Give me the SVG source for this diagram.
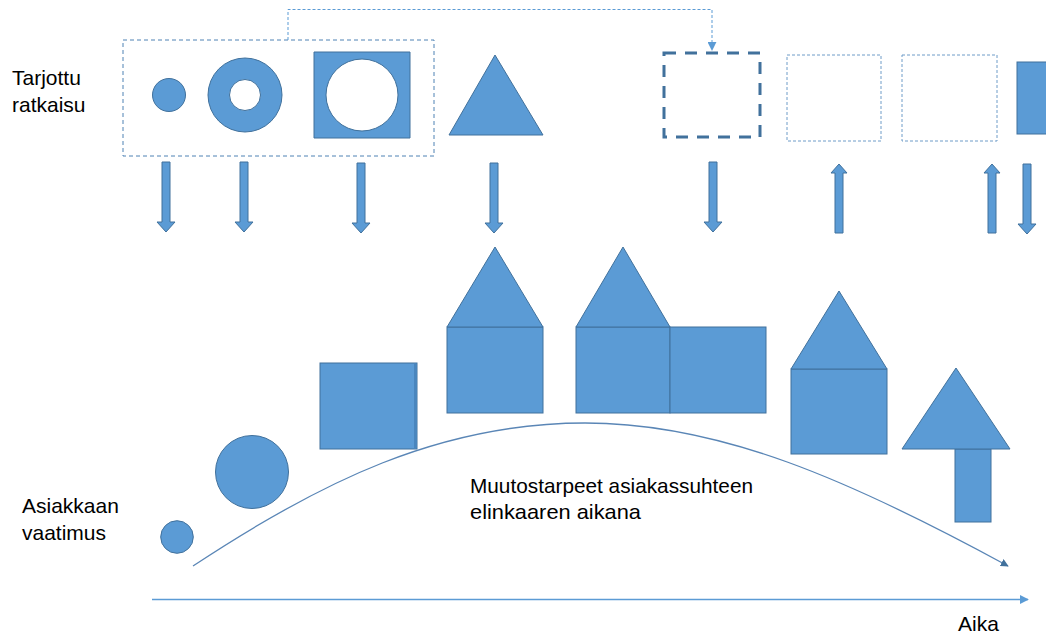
<svg xmlns="http://www.w3.org/2000/svg" width="1046" height="635" viewBox="0 0 1046 635">
  <defs>
    <style>
      .shape { fill: #5B9BD5; stroke: #41719C; stroke-width: 1; }
      .label { font-family: "Liberation Sans", Arial, sans-serif; font-size: 21px; fill: #000; }
      .dash-box { fill: none; stroke: #4F82B4; stroke-width: 1; stroke-dasharray: 4 3; }
      .dot-box { fill: none; stroke: #6F9CC8; stroke-width: 1; stroke-dasharray: 3 2; }
      .heavy-box { fill: none; stroke: #41719C; stroke-width: 3; stroke-dasharray: 12 9; }
    </style>
    <marker id="tip" viewBox="0 0 10 10" refX="9" refY="5" markerWidth="8" markerHeight="8" markerUnits="userSpaceOnUse" orient="auto">
      <path d="M0,0 L10,5 L0,10 z" fill="#41719C"/>
    </marker>
    <marker id="tipLight" viewBox="0 0 10 10" refX="9" refY="5" markerWidth="9" markerHeight="9" markerUnits="userSpaceOnUse" orient="auto">
      <path d="M0,0 L10,5 L0,10 z" fill="#5B9BD5"/>
    </marker>
    <!-- block arrows, drawn at origin and placed by x/y -->
    <path id="downArrow" d="M-4,0 H4 V60 H9 L0,70 L-9,60 H-4 Z" class="shape"/>
    <path id="upArrow" d="M0,0 L8,9 H4 V69 H-4 V9 H-8 Z" class="shape"/>
  </defs>

  <!-- side labels -->
  <g id="label-offer">
    <text class="label" x="12" y="85">Tarjottu</text>
    <text class="label" x="12" y="112">ratkaisu</text>
  </g>
  <g id="label-need">
    <text class="label" x="22" y="513">Asiakkaan</text>
    <text class="label" x="22" y="540">vaatimus</text>
  </g>

  <!-- offered solutions (top row) -->
  <g id="offer-group">
    <rect class="dash-box" x="123" y="40" width="311" height="116"/>
  </g>
  <g id="offer-circle">
    <circle class="shape" cx="169" cy="95" r="16.5"/>
  </g>
  <g id="offer-ring">
    <path class="shape" fill-rule="evenodd" d="M208,95 a37,37 0 1,0 74,0 a37,37 0 1,0 -74,0 Z M229.5,95 a15.5,15.5 0 1,0 31,0 a15.5,15.5 0 1,0 -31,0 Z"/>
  </g>
  <g id="offer-frame">
    <path class="shape" fill-rule="evenodd" d="M314,52 H410 V138 H314 Z M326,95 a36,36 0 1,0 72,0 a36,36 0 1,0 -72,0 Z"/>
  </g>
  <g id="offer-triangle">
    <polygon class="shape" points="495,55 543,135 449,135"/>
  </g>
  <g id="offer-planned">
    <rect class="heavy-box" x="664" y="53" width="96" height="84"/>
  </g>
  <g id="offer-empty-1">
    <rect class="dot-box" x="787" y="55" width="94" height="86"/>
  </g>
  <g id="offer-empty-2">
    <rect class="dot-box" x="902" y="55" width="95" height="86"/>
  </g>
  <g id="offer-bar">
    <rect class="shape" x="1017" y="62" width="40" height="72"/>
  </g>

  <!-- customer requirements (bottom row) -->
  <g id="need-small-circle">
    <circle class="shape" cx="177" cy="537" r="16.3"/>
  </g>
  <g id="need-big-circle">
    <circle class="shape" cx="252" cy="472" r="36.5"/>
  </g>
  <g id="need-square">
    <rect class="shape" x="320" y="363" width="97" height="86"/>
    <rect x="414" y="363.5" width="2.5" height="85" fill="#4A86BE"/>
  </g>
  <g id="need-house-1">
    <rect class="shape" x="447" y="327" width="96" height="86"/>
    <polygon class="shape" points="495,247 543,327 447,327"/>
  </g>
  <g id="need-house-2">
    <rect class="shape" x="576" y="327" width="94" height="86"/>
    <rect class="shape" x="670" y="327" width="96" height="86"/>
    <polygon class="shape" points="623,247 670,327 576,327"/>
  </g>
  <g id="need-house-3">
    <rect class="shape" x="791" y="369" width="96" height="85"/>
    <polygon class="shape" points="839,291 887,369 791,369"/>
  </g>
  <g id="need-arrow">
    <rect class="shape" x="955" y="449" width="36" height="73"/>
    <polygon class="shape" points="956,368 1010,449 902,449"/>
  </g>

  <!-- connectors -->
  <g id="connectors">
    <path d="M288,40 V9.5 H712 V50" fill="none" stroke="#5B9BD5" stroke-width="1" stroke-dasharray="3 2" marker-end="url(#tipLight)"/>
    <use href="#downArrow" x="166" y="162"/>
    <use href="#downArrow" x="244" y="162"/>
    <use href="#downArrow" x="361" y="163"/>
    <use href="#downArrow" x="494" y="163"/>
    <use href="#downArrow" x="713" y="162"/>
    <use href="#upArrow" x="839" y="164"/>
    <use href="#upArrow" x="992" y="164"/>
    <use href="#downArrow" x="1027" y="164"/>
    <path d="M193,566 C320,482 440,423 585,423 C720,423 850,480 1008,566" fill="none" stroke="#5A86B6" stroke-width="1.3" marker-end="url(#tip)"/>
    <line x1="152" y1="599.5" x2="1028" y2="599.5" stroke="#5B9BD5" stroke-width="1.3" marker-end="url(#tipLight)"/>
  </g>

  <!-- curve and axis texts -->
  <g id="curve-label">
    <text class="label" x="470" y="493" textLength="283" lengthAdjust="spacingAndGlyphs">Muutostarpeet asiakassuhteen</text>
    <text class="label" x="470" y="519" textLength="171" lengthAdjust="spacingAndGlyphs">elinkaaren aikana</text>
  </g>
  <g id="axis-label">
    <text class="label" x="958" y="631">Aika</text>
  </g>
</svg>
